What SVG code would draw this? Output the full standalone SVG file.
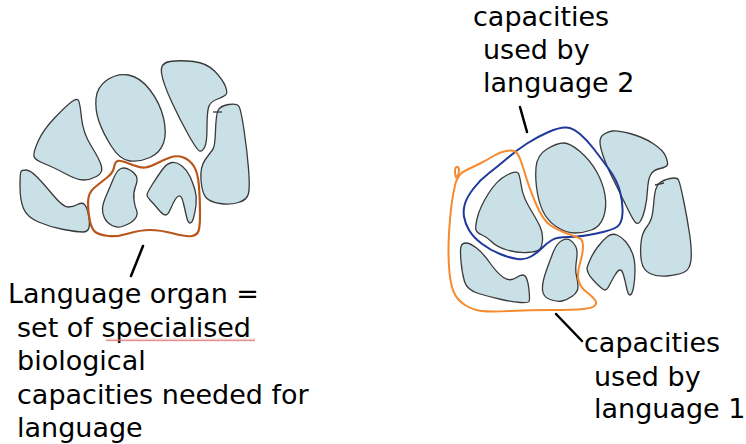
<svg xmlns="http://www.w3.org/2000/svg" width="746" height="444" viewBox="0 0 746 444">
<style>
.blob{fill:#c9e1e6;stroke:#3a3a3a;stroke-width:1.3;stroke-linejoin:round}
.tick{stroke:#3a3a3a;stroke-width:1.3}
.ptr{stroke:#000;stroke-width:2.5;stroke-linecap:round;fill:none}
.lbl{font-family:"DejaVu Sans",Verdana,sans-serif;font-size:27px;fill:#000}
.brown{fill:none;stroke:#b8561c;stroke-width:2.2}
.orange{fill:none;stroke:#f58a2e;stroke-width:2}
.blue{fill:none;stroke:#1f3a9a;stroke-width:2}
</style>
<defs>
<pattern id="squig" width="4" height="3" patternUnits="userSpaceOnUse">
<polyline points="0,2.5 1,0.5 2,2.5 3,0.5 4,2.5" fill="none" stroke="#e07070" stroke-width="0.8"/>
</pattern>
</defs>
<rect width="746" height="444" fill="#fff"/>

<g id="left-cluster">
<path id="blob-a" class="blob" d="M38,141.5 Q43,130 55,117.5 Q67,105 72,101.5 Q77,98 78.5,100.5 Q80,103 81.5,118 Q83,133 91.5,146.5 Q100,160 101.5,166.5 Q103,173 96.5,176.5 Q90,180 83.5,180 Q77,180 65,173.5 Q53,167 44,163.5 Q35,160 34,156.5 Q33,153 38,141.5Z"/>
<path id="blob-b" class="blob" d="M107,80 Q117,73 128.5,75 Q140,77 150,90 Q160,103 163.5,118 Q167,133 163.5,143 Q160,153 150,157.5 Q140,162 130,161 Q120,160 111.5,146.5 Q103,133 99,121.5 Q95,110 96,98.5 Q97,87 107,80Z"/>
<path id="blob-c" class="blob" d="M170,61.5 Q180,60 193.5,61.5 Q207,63 215,71.5 Q223,80 225.5,86.5 Q228,93 225.5,95 Q223,97 216.5,99.5 Q210,102 208.5,107.5 Q207,113 207,128 Q207,143 204.5,147.5 Q202,152 199.5,151 Q197,150 188.5,135 Q180,120 171.5,101.5 Q163,83 161.5,73 Q160,63 170,61.5Z"/>
<path id="blob-d" class="blob" d="M228.5,104.5 Q237,103 239,106.5 Q241,110 244,130 Q247,150 248.5,168.5 Q250,187 248.5,193.5 Q247,200 238.5,202.5 Q230,205 220,203.5 Q210,202 206,197.5 Q202,193 201,180 Q200,167 205,160 Q210,153 212.5,150 Q215,147 215.5,131 Q216,115 218,110.5 Q220,106 228.5,104.5Z"/>
<line class="tick" x1="213" y1="112" x2="222" y2="112"/>
<path id="blob-e" class="blob" d="M26,170 Q30,170 36.5,176.5 Q43,183 53,195 Q63,207 68,207 Q73,207 77.5,204.5 Q82,202 84.5,204.5 Q87,207 88.5,215 Q90,223 89,227.5 Q88,232 82.5,232 Q77,232 63.5,229.5 Q50,227 38.5,222 Q27,217 23.5,208.5 Q20,200 20,186.5 Q20,173 21,171.5 Q22,170 26,170Z"/>
<path id="blob-f" class="blob" d="M121,168.5 Q125,167 130,170 Q135,173 136.5,176.5 Q138,180 135.5,186.5 Q133,193 134,200 Q135,207 136.5,210 Q138,213 136.5,216.5 Q135,220 131,222.5 Q127,225 122,226.5 Q117,228 112,225.5 Q107,223 104.5,218 Q102,213 102.5,208 Q103,203 106.5,195 Q110,187 113.5,178.5 Q117,170 121,168.5Z"/>
<path id="blob-g" class="blob" d="M152,185 Q157,177 162,170 Q167,163 172,162.5 Q177,162 182,166 Q187,170 190,176.5 Q193,183 195,190 Q197,197 196,205 Q195,213 193.5,218 Q192,223 190,223 Q188,223 186.5,216.5 Q185,210 183.5,203.5 Q182,197 180,196 Q178,195 175.5,199 Q173,203 170.5,209 Q168,215 165.5,215 Q163,215 158,209 Q153,203 150,200 Q147,197 147,195 Q147,193 152,185Z"/>
</g>
<g id="language-organ-outline">
<path class="brown" d="M94,188 Q100,183 106.5,178 Q113,173 114,167.5 Q115,162 117.5,161 Q120,160 130,164 Q140,168 145,167.5 Q150,167 156.5,163.5 Q163,160 170,157.5 Q177,155 183.5,157.5 Q190,160 194,166.5 Q198,173 199,186.5 Q200,200 200,213.5 Q200,227 198.5,231 Q197,235 192,236 Q187,237 173.5,233.5 Q160,230 150,230 Q140,230 128.5,233.5 Q117,237 108.5,236 Q100,235 96,232.5 Q92,230 90,221.5 Q88,213 88,203 Q88,193 94,188Z"/>
</g>

<g id="right-cluster">
<path id="blob-r1" class="blob" d="M477.5,217 Q480,207 488.5,193.5 Q497,180 507,175 Q517,170 518.5,173.5 Q520,177 521.5,187 Q523,197 530,208.5 Q537,220 540,226.5 Q543,233 542.5,240 Q542,247 539.5,249.5 Q537,252 527,252.5 Q517,253 507,250 Q497,247 492,242 Q487,237 482,235 Q477,233 476,230 Q475,227 477.5,217Z"/>
<path id="blob-r2" class="blob" d="M547,149 Q557,143 563.5,143 Q570,143 580,151.5 Q590,160 596.5,171.5 Q603,183 605,195 Q607,207 603.5,217 Q600,227 591.5,230 Q583,233 575,233 Q567,233 558.5,228 Q550,223 545,215 Q540,207 537.5,193.5 Q535,180 536,167.5 Q537,155 547,149Z"/>
<path id="blob-r3" class="blob" d="M603.5,134.5 Q607,132 612,131 Q617,130 630,133.5 Q643,137 653,143.5 Q663,150 665.5,156 Q668,162 667.5,164.5 Q667,167 660,168.5 Q653,170 650.5,175 Q648,180 647.5,190 Q647,200 645,208.5 Q643,217 640.5,221 Q638,225 635.5,222.5 Q633,220 626.5,206.5 Q620,193 613.5,180 Q607,167 603.5,157 Q600,147 600,142 Q600,137 603.5,134.5Z"/>
<path id="blob-r4" class="blob" d="M670,178.5 Q677,177 678.5,180 Q680,183 683.5,200 Q687,217 689.5,233.5 Q692,250 691,260 Q690,270 683.5,272.5 Q677,275 667,276 Q657,277 650,273.5 Q643,270 641.5,261.5 Q640,253 641,243 Q642,233 646,228 Q650,223 651.5,218 Q653,213 654,200 Q655,187 659,183.5 Q663,180 670,178.5Z"/>
<line class="tick" x1="655" y1="185" x2="664" y2="183"/>
<path id="blob-r5" class="blob" d="M466,243 Q470,243 476.5,248 Q483,253 490,263 Q497,273 503.5,277.5 Q510,282 516.5,277.5 Q523,273 525.5,276.5 Q528,280 529,290 Q530,300 529,301.5 Q528,303 520.5,302.5 Q513,302 501.5,299.5 Q490,297 478.5,293.5 Q467,290 464.5,281.5 Q462,273 461,261.5 Q460,250 461,246.5 Q462,243 466,243Z"/>
<path id="blob-r6" class="blob" d="M562,240.5 Q567,238 570,240 Q573,242 575.5,246 Q578,250 576.5,260 Q575,270 576.5,276 Q578,282 578,287 Q578,292 572.5,296 Q567,300 562,301 Q557,302 550,299.5 Q543,297 542.5,290 Q542,283 546,271.5 Q550,260 553.5,251.5 Q557,243 562,240.5Z"/>
<path id="blob-r7" class="blob" d="M590,260 Q593,253 598,246.5 Q603,240 607.5,236.5 Q612,233 617,235 Q622,237 626,242 Q630,247 632.5,253.5 Q635,260 635,270 Q635,280 633.5,287.5 Q632,295 630,295 Q628,295 626.5,287.5 Q625,280 623.5,275 Q622,270 620,270 Q618,270 615,275 Q612,280 609.5,285 Q607,290 605,290 Q603,290 596.5,283.5 Q590,277 588.5,273.5 Q587,270 587,268.5 Q587,267 590,260Z"/>
</g>
<g id="language-2-outline">
<path class="blue" d="M465,203.5 Q467,197 473.5,188.5 Q480,180 488.5,173.5 Q497,167 507,158.5 Q517,150 527,143.5 Q537,137 548.5,132 Q560,127 566.5,127.5 Q573,128 580,134 Q587,140 593.5,148.5 Q600,157 608.5,168.5 Q617,180 620,191.5 Q623,203 622.5,213 Q622,223 617.5,226.5 Q613,230 596.5,233.5 Q580,237 568.5,237 Q557,237 552,240 Q547,243 542,248 Q537,253 531,256.5 Q525,260 517.5,259 Q510,258 500,254 Q490,250 481.5,243.5 Q473,237 469,230 Q465,223 464,216.5 Q463,210 465,203.5Z"/>
</g>
<g id="language-1-outline">
<path class="orange" d="M455.5,183.5 Q458,174 465.5,170.5 Q473,167 480,163.5 Q487,160 493.5,156 Q500,152 506,151 Q512,150 515,151.5 Q518,153 520.5,160 Q523,167 526.5,178.5 Q530,190 536.5,205 Q543,220 550,225 Q557,230 567,233.5 Q577,237 580,238.5 Q583,240 583,246.5 Q583,253 580,263 Q577,273 578.5,280 Q580,287 586.5,292 Q593,297 595,300 Q597,303 595,305.5 Q593,308 583,309 Q573,310 551.5,310 Q530,310 510,311 Q490,312 481.5,311 Q473,310 465,305 Q457,300 453.5,291.5 Q450,283 449,266.5 Q448,250 449,233.5 Q450,217 451.5,205 Q453,193 455.5,183.5Z"/>
<path class="orange" d="M456,178 C454,171 455,166 457.5,167 C460,168 459,174 457,177"/>
</g>

<g id="connectors">
<line class="ptr" x1="143" y1="246" x2="131" y2="276"/>
<line class="ptr" x1="520" y1="107" x2="527" y2="132"/>
<line class="ptr" x1="556" y1="314" x2="582" y2="341"/>
</g>

<g id="label-language-organ">
<text class="lbl" x="8" y="303">Language organ =</text>
<text class="lbl" x="17" y="336.5">set of specialised</text>
<rect x="106" y="338.5" width="149" height="3" fill="url(#squig)"/>
<text class="lbl" x="17" y="370">biological</text>
<text class="lbl" x="17" y="403.5">capacities needed for</text>
<text class="lbl" x="17" y="437">language</text>
</g>
<g id="label-language-2">
<text class="lbl" x="473" y="26">capacities</text>
<text class="lbl" x="483" y="59">used by</text>
<text class="lbl" x="483" y="92">language 2</text>
</g>
<g id="label-language-1">
<text class="lbl" x="584" y="352">capacities</text>
<text class="lbl" x="594" y="386">used by</text>
<text class="lbl" x="594" y="418">language 1</text>
</g>
</svg>
